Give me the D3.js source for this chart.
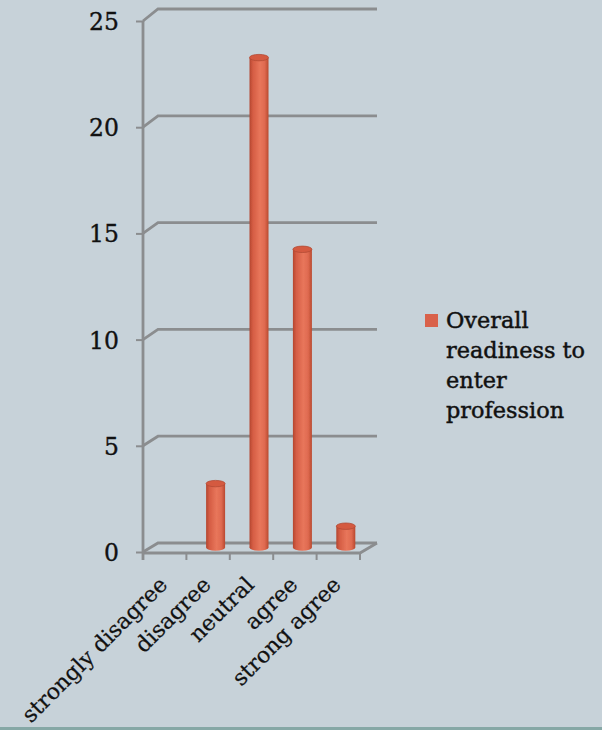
<!DOCTYPE html>
<html>
<head>
<meta charset="utf-8">
<script src="https://cdn.jsdelivr.net/npm/d3@7"></script>
<style>
  html, body { margin: 0; padding: 0; background: #c7d2d9; }
  svg { display: block; }
</style>
</head>
<body>
<svg id="chart" width="602" height="730"></svg>
<script>
// Survey responses: overall readiness to enter the profession
const categories = ["strongly disagree", "disagree", "neutral", "agree", "strong agree"];
const counts = [0, 3, 23, 14, 1];
const yTicks = [0, 5, 10, 15, 20, 25];
const seriesName = ["Overall", "readiness to", "enter", "profession"];

const W = 602, H = 730;
const svg = d3.select("#chart");
const gridColor = "#8b8d8f";
const barColor = "#d9614a";
const serif = "'DejaVu Serif', serif";

// pseudo-3D layout: front plane, back wall and mid-depth for the cylinders
const depth = { dx: 15, dy: -9 };
const x = d3.scaleBand().domain(categories).range([143, 360]).paddingInner(0).paddingOuter(0);
const yFront = d3.scaleLinear().domain([0, 25]).range([552, 21]);
const yBack = d3.scaleLinear().domain([0, 25]).range([543, 9]);
const yMid = d3.scaleLinear().domain([0, 25]).range([547.5, 15]);

svg.append("rect").attr("width", W).attr("height", H).attr("fill", "#c7d2d9");
svg.append("rect").attr("x", 0).attr("y", 727).attr("width", W).attr("height", 3).attr("fill", "#86a8a6");

const defs = svg.append("defs");
const grad = defs.append("linearGradient").attr("id", "cyl").attr("x1", 0).attr("x2", 1).attr("y1", 0).attr("y2", 0);
[["0%", "#b4462f"], ["18%", "#d55d44"], ["55%", "#e8765b"], ["80%", "#df6a50"], ["100%", "#b9492f"]]
  .forEach(([o, c]) => grad.append("stop").attr("offset", o).attr("stop-color", c));
defs.append("filter").attr("id", "soft").append("feGaussianBlur").attr("stdDeviation", 0.5);

const x0 = x.range()[0], x1 = x.range()[1];

// gridlines with the short receding segment at the wall corner
const grid = svg.append("g").attr("fill", "none").attr("stroke", gridColor).attr("stroke-width", 2.8);
yTicks.forEach(v => {
  grid.append("path").attr("d", d3.line()([
    [x0, yFront(v)], [x0 + depth.dx, yBack(v)], [x1 + 17, yBack(v)]
  ]));
});
// floor outline
grid.append("path").attr("d", d3.line()([
  [x1 + 17, yBack(0)], [x1, yFront(0) + 1], [x0, yFront(0) + 1]
]));

// value axis line and ticks
svg.append("line").attr("x1", x0).attr("x2", x0).attr("y1", yFront(25)).attr("y2", 560)
  .attr("stroke", gridColor).attr("stroke-width", 2.8);

const yAxis = d3.axisLeft(yFront).tickValues(yTicks).tickSize(7).tickPadding(17).tickFormat(d3.format("d"));
const gy = svg.append("g").attr("transform", `translate(${x0},0)`).call(yAxis);
gy.select(".domain").remove();
gy.selectAll(".tick line").attr("stroke", gridColor).attr("stroke-width", 2);
gy.selectAll(".tick text")
  .attr("fill", "#111").attr("font-family", serif).attr("font-size", 23.5)
  .attr("stroke", "#111").attr("stroke-width", 0.35)
  .attr("dy", "0.36em");

// category boundary ticks below the floor
const bounds = categories.map(c => x(c)).concat([x1]);
svg.append("g").selectAll("line").data(bounds).join("line")
  .attr("x1", d => d).attr("x2", d => d).attr("y1", yFront(0) + 1).attr("y2", 560)
  .attr("stroke", gridColor).attr("stroke-width", 2);

// category labels, rotated
svg.append("g").selectAll("text").data(categories).join("text")
  .attr("transform", d => `translate(${x(d) + x.bandwidth() / 2 + 4},586) rotate(-45)`)
  .attr("text-anchor", "end")
  .attr("fill", "#111").attr("font-family", serif).attr("font-size", 22)
  .attr("stroke", "#111").attr("stroke-width", 0.25)
  .text(d => d);

// cylinders
const r = 9.5, ry = 3.2;
const bars = svg.append("g").attr("filter", "url(#soft)");
categories.forEach((c, i) => {
  const v = counts[i];
  if (v <= 0) return;
  const cx = x(c) + x.bandwidth() / 2 + depth.dx / 2;
  const top = yMid(v), base = yMid(0);
  const g = bars.append("g");
  g.append("ellipse").attr("cx", cx).attr("cy", base).attr("rx", r).attr("ry", ry).attr("fill", "url(#cyl)");
  g.append("rect").attr("x", cx - r).attr("y", top).attr("width", 2 * r).attr("height", base - top).attr("fill", "url(#cyl)");
  g.append("ellipse").attr("cx", cx).attr("cy", top).attr("rx", r).attr("ry", ry)
    .attr("fill", "#d45a41").attr("stroke", "#b24a33").attr("stroke-width", 0.8);
});

// legend
const lg = svg.append("g");
lg.append("rect").attr("x", 425).attr("y", 314).attr("width", 13).attr("height", 13).attr("fill", barColor);
lg.append("text").attr("x", 446).attr("y", 328)
  .attr("fill", "#111").attr("font-family", serif).attr("font-size", 22.4)
  .attr("stroke", "#111").attr("stroke-width", 0.45)
  .selectAll("tspan").data(seriesName).join("tspan")
  .attr("x", 446).attr("dy", (d, i) => i === 0 ? 0 : 30).text(d => d);
</script>
</body>
</html>
